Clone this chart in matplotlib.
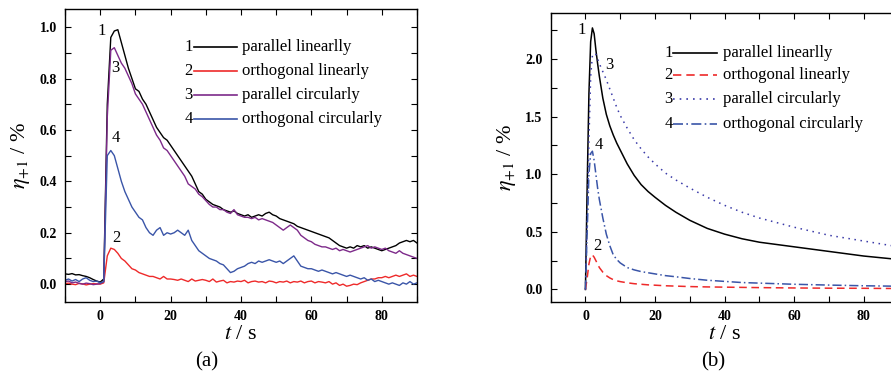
import matplotlib

matplotlib.use("Agg")
import matplotlib.pyplot as plt
import numpy as np
from matplotlib.ticker import FormatStrFormatter, MultipleLocator

plt.rcParams["font.family"] = ["Liberation Serif", "DejaVu Serif"]
plt.rcParams["mathtext.fontset"] = "stix"

# ---- panel (a): measured curves, sampled every 1 s from -10 s to 90 s ----
t_meas = np.arange(-10, 91, 1)

par_lin_meas = [
    0.040, 0.038, 0.041, 0.036, 0.037, 0.033, 0.030, 0.025, 0.018, 0.012,
    0.008, 0.02, 0.70, 0.96, 0.985, 0.99, 0.94, 0.89, 0.84, 0.80,
    0.76, 0.75, 0.72, 0.70, 0.67, 0.64, 0.61, 0.59, 0.57, 0.56,
    0.54, 0.52, 0.50, 0.48, 0.46, 0.44, 0.42, 0.39, 0.36, 0.35,
    0.33, 0.32, 0.31, 0.305, 0.30, 0.29, 0.285, 0.28, 0.285, 0.275,
    0.27, 0.265, 0.27, 0.26, 0.265, 0.27, 0.265, 0.275, 0.28, 0.27,
    0.265, 0.255, 0.25, 0.245, 0.24, 0.235, 0.225, 0.22, 0.215, 0.21,
    0.205, 0.20, 0.195, 0.19, 0.185, 0.18, 0.17, 0.16, 0.15, 0.145,
    0.14, 0.145, 0.14, 0.15, 0.145, 0.15, 0.14, 0.145, 0.14, 0.135,
    0.13, 0.135, 0.14, 0.145, 0.15, 0.16, 0.165, 0.17, 0.165, 0.17, 0.16,
]
orth_lin_meas = [
    0.002, 0.004, 0.000, -0.002, 0.003, 0.001, -0.003, 0.000, 0.002, 0.001,
    0.000, 0.005, 0.11, 0.14, 0.135, 0.12, 0.10, 0.09, 0.075, 0.06,
    0.055, 0.045, 0.04, 0.035, 0.03, 0.03, 0.025, 0.02, 0.03, 0.02,
    0.02, 0.018, 0.015, 0.02, 0.015, 0.01, 0.02, 0.012, 0.015, 0.018,
    0.015, 0.01, 0.02, 0.008, 0.012, 0.015, 0.005, 0.01, 0.008, 0.012,
    0.01, 0.015, 0.005, 0.01, 0.012, 0.008, 0.01, 0.005, 0.012, 0.01,
    0.005, 0.01, 0.008, 0.012, 0.005, 0.01, 0.008, 0.012, 0.005, 0.01,
    0.012, 0.005, 0.01, 0.008, 0.005, 0.01, 0.0, 0.005, -0.005, 0.0,
    -0.008, -0.005, 0.0, -0.002, 0.005, 0.01, 0.015, 0.02, 0.02, 0.025,
    0.025, 0.03, 0.025, 0.03, 0.035, 0.03, 0.035, 0.04, 0.03, 0.035, 0.03,
]
par_circ_meas = [
    0.010, 0.012, 0.005, 0.008, 0.003, 0.000, 0.004, 0.002, -0.002, 0.000,
    0.002, 0.01, 0.65, 0.91, 0.92, 0.89, 0.86, 0.84, 0.81, 0.78,
    0.74, 0.72, 0.70, 0.67, 0.64, 0.61, 0.58, 0.56, 0.53, 0.52,
    0.50, 0.48, 0.46, 0.44, 0.42, 0.39, 0.38, 0.37, 0.35, 0.34,
    0.325, 0.31, 0.30, 0.30, 0.29, 0.29, 0.28, 0.275, 0.29, 0.27,
    0.265, 0.26, 0.26, 0.255, 0.26, 0.25, 0.255, 0.25, 0.245, 0.24,
    0.23, 0.22, 0.21, 0.22, 0.23, 0.22, 0.21, 0.19, 0.18, 0.17,
    0.165, 0.155, 0.15, 0.145, 0.145, 0.14, 0.135, 0.14, 0.13, 0.135,
    0.13, 0.125, 0.13, 0.135, 0.14, 0.145, 0.15, 0.14, 0.145, 0.14,
    0.135, 0.14, 0.13, 0.125, 0.12, 0.13, 0.12, 0.115, 0.11, 0.105, 0.10,
]
orth_circ_meas = [
    0.015, 0.020, 0.012, 0.018, 0.010, 0.020, 0.025, 0.015, 0.010, 0.012,
    0.005, 0.01, 0.50, 0.52, 0.50, 0.45, 0.40, 0.36, 0.33, 0.30,
    0.28, 0.26, 0.25, 0.22, 0.20, 0.19, 0.21, 0.22, 0.19, 0.20,
    0.195, 0.20, 0.21, 0.20, 0.19, 0.21, 0.17, 0.15, 0.13, 0.12,
    0.11, 0.10, 0.095, 0.09, 0.08, 0.075, 0.06, 0.045, 0.05, 0.06,
    0.065, 0.07, 0.08, 0.085, 0.08, 0.09, 0.085, 0.09, 0.095, 0.09,
    0.085, 0.09, 0.08, 0.09, 0.10, 0.11, 0.09, 0.07, 0.065, 0.06,
    0.06, 0.055, 0.05, 0.055, 0.05, 0.045, 0.04, 0.045, 0.04, 0.035,
    0.03, 0.035, 0.03, 0.025, 0.02, 0.025, 0.015, 0.02, 0.01, 0.015,
    0.01, 0.005, 0.0, 0.005, 0.0, -0.005, 0.005, 0.0, 0.01, 0.0, 0.005,
]

# ---- panel (b): simulated curves ----
t_sim = [0, 0.5, 1, 1.5, 2, 2.5, 3, 3.5, 4, 5, 6, 7, 8, 9, 10, 12, 14, 16,
         18, 20, 23, 26, 30, 35, 40, 45, 50, 60, 70, 80, 90]
par_lin_sim = [0.0, 0.9, 1.7, 2.15, 2.27, 2.22, 2.08, 1.96, 1.85, 1.66, 1.52,
               1.42, 1.34, 1.27, 1.21, 1.09, 0.99, 0.91, 0.85, 0.80, 0.73,
               0.67, 0.60, 0.53, 0.48, 0.44, 0.41, 0.37, 0.33, 0.29, 0.26]
orth_lin_sim = [0.0, 0.10, 0.22, 0.29, 0.30, 0.28, 0.25, 0.22, 0.19, 0.15,
                0.12, 0.10, 0.085, 0.075, 0.068, 0.058, 0.05, 0.045, 0.04,
                0.037, 0.032, 0.029, 0.025, 0.022, 0.02, 0.018, 0.016,
                0.013, 0.011, 0.01, 0.008]
par_circ_sim = [0.0, 0.6, 1.3, 1.85, 2.03, 2.05, 2.04, 2.0, 1.96, 1.89, 1.82,
                1.74, 1.66, 1.58, 1.51, 1.40, 1.30, 1.22, 1.15, 1.09, 1.01,
                0.95, 0.88, 0.80, 0.73, 0.67, 0.62, 0.54, 0.47, 0.42, 0.37]
orth_circ_sim = [0.0, 0.5, 1.0, 1.18, 1.2, 1.12, 1.0, 0.88, 0.78, 0.62, 0.48,
                 0.38, 0.30, 0.26, 0.23, 0.19, 0.17, 0.155, 0.145, 0.135,
                 0.12, 0.11, 0.095, 0.08, 0.07, 0.06, 0.055, 0.045, 0.038,
                 0.032, 0.028]

legend_labels = ["parallel linearlly", "orthogonal linearly",
                 "parallel circularly", "orthogonal circularly"]

COLORS_A = ["black", "#ee2a2a", "#7d2a8a", "#3a55a8"]
STYLES_B = [("black", "-"), ("#ee2a2a", (0, (5, 3))), ("#3a3aa8", (0, (1, 3))),
            ("#3a55a8", (0, (6, 2, 1, 2)))]

fig = plt.figure(figsize=(8.91, 3.81), dpi=100)
ax_a = fig.add_axes([0.073, 0.207, 0.395, 0.769])
ax_b = fig.add_axes([0.618, 0.207, 0.3906, 0.759])


def style_axis(ax, ymajor, yminor):
    ax.set_xlim(-10, 90)
    ax.xaxis.set_major_locator(MultipleLocator(20))
    ax.xaxis.set_minor_locator(MultipleLocator(10))
    ax.yaxis.set_major_locator(MultipleLocator(ymajor))
    ax.yaxis.set_minor_locator(MultipleLocator(yminor))
    ax.yaxis.set_major_formatter(FormatStrFormatter("%.1f"))
    ax.tick_params(which="both", direction="in", top=True, right=True,
                   length=4, width=0.8)
    ax.tick_params(which="major", labelsize=10, pad=6)
    for lbl in ax.get_xticklabels() + ax.get_yticklabels():
        lbl.set_fontweight("bold")
    for sp in ax.spines.values():
        sp.set_linewidth(1.0)
    ax.set_xlabel(r"$t$ / s", fontsize=16, labelpad=1)
    ax.set_ylabel(r"$\eta_{+1}$ / %", fontsize=16, labelpad=5)


# panel (a)
for ys, c in zip([par_lin_meas, orth_lin_meas, par_circ_meas, orth_circ_meas], COLORS_A):
    ax_a.plot(t_meas, ys, color=c, lw=1.0)
ax_a.set_ylim(-0.07, 1.07)
style_axis(ax_a, 0.2, 0.1)

for num, (x, y) in zip("1342", [(-0.8, 0.985), (3.0, 0.84), (3.3, 0.57), (3.5, 0.18)]):
    ax_a.text(x, y, num, fontsize=12, ha="left", va="center")

ly = [0.870, 0.788, 0.706, 0.625]
for i, (lab, c) in enumerate(zip(legend_labels, COLORS_A)):
    ax_a.text(0.363, ly[i], str(i + 1), transform=ax_a.transAxes, fontsize=12,
              ha="right", va="center")
    ax_a.plot([0.365, 0.488], [ly[i], ly[i]], transform=ax_a.transAxes, color=c, lw=1.2)
    ax_a.text(0.503, ly[i], lab, transform=ax_a.transAxes, fontsize=12,
              ha="left", va="center")

# panel (b)
for ys, (c, ls) in zip([par_lin_sim, orth_lin_sim, par_circ_sim, orth_circ_sim], STYLES_B):
    ax_b.plot(t_sim, ys, color=c, ls=ls, lw=1.1)
ax_b.set_ylim(-0.11, 2.40)
style_axis(ax_b, 0.5, 0.25)

for num, (x, y) in zip("1342", [(-2.2, 2.25), (5.8, 1.95), (2.6, 1.25), (2.2, 0.38)]):
    ax_b.text(x, y, num, fontsize=12, ha="left", va="center")

lyb = [0.861, 0.785, 0.702, 0.616]
for i, (lab, (c, ls)) in enumerate(zip(legend_labels, STYLES_B)):
    ax_b.text(0.351, lyb[i], str(i + 1), transform=ax_b.transAxes, fontsize=12,
              ha="right", va="center")
    ax_b.plot([0.353, 0.477], [lyb[i], lyb[i]], transform=ax_b.transAxes,
              color=c, ls=ls, lw=1.2)
    ax_b.text(0.494, lyb[i], lab, transform=ax_b.transAxes, fontsize=12,
              ha="left", va="center")

fig.text(207 / 891, 1 - 362 / 381, "(a)", fontsize=15, ha="center", va="center")
fig.text(713 / 891, 1 - 362 / 381, "(b)", fontsize=15, ha="center", va="center")

fig.savefig("out.png", dpi=100)
